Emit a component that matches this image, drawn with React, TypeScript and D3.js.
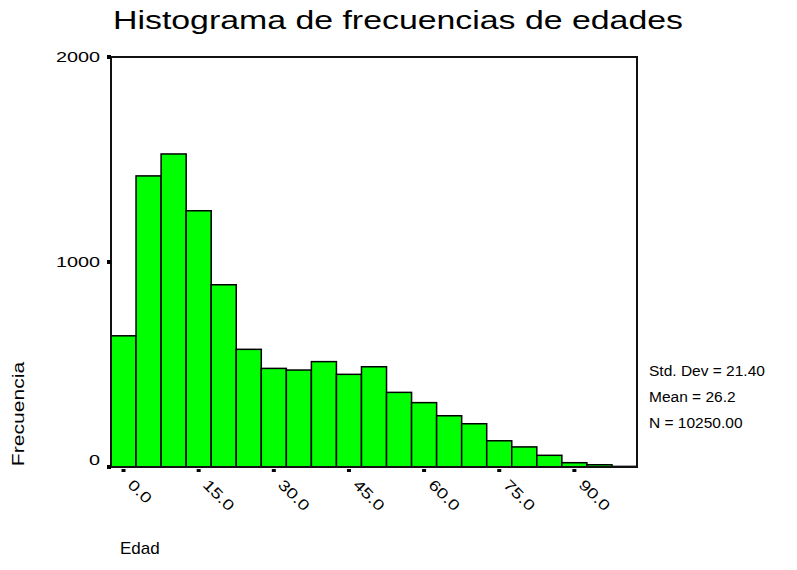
import React from "react";
import * as d3 from "d3";

const binCenters = [0, 5, 10, 15, 20, 25, 30, 35, 40, 45, 50, 55, 60, 65, 70, 75, 80, 85, 90, 95, 100];
const counts = [640, 1420, 1527, 1250, 889, 574, 481, 473, 514, 452, 489, 364, 314, 250, 211, 128, 98, 57, 21, 11, 3];
const xTicks = [0, 15, 30, 45, 60, 75, 90];
const yTicks = [0, 1000, 2000];
const stats = ["Std. Dev = 21.40", "Mean = 26.2", "N = 10250.00"];
const binWidth = 5;

const W = 797;
const H = 570;
const left = 111;
const right = 637;
const top = 57;
const bottom = 467;
const font = "Liberation Sans, Arial, sans-serif";
const SX = 1.28;

export default function App() {
  const x = d3.scaleLinear().domain([-2.5, 102.5]).range([left, right]);
  const y = d3.scaleLinear().domain([0, 2000]).range([bottom, top]);
  return (
    <svg width={W} height={H} style={{ position: "absolute", left: 0, top: 0 }} fontFamily={font}>
      <rect x={0} y={0} width={W} height={H} fill="#fff" />
      <text
        x={113}
        y={29}
        fontSize={26.5}
        textLength={570}
        lengthAdjust="spacingAndGlyphs"
        fill="#000"
      >
        Histograma de frecuencias de edades
      </text>
      {binCenters.map((c, i) => (
        <rect
          key={i}
          x={x(c - binWidth / 2)}
          y={y(counts[i])}
          width={x(c + binWidth / 2) - x(c - binWidth / 2)}
          height={bottom - y(counts[i])}
          fill="#00ff00"
          stroke="#000"
          strokeWidth={1.5}
        />
      ))}
      <path
        d={`M${left},${top} L${right},${top} L${right},${bottom} L${left},${bottom} Z`}
        fill="none"
        stroke="#111"
        strokeWidth={2}
      />
      {yTicks.map((t) => (
        <g key={t}>
          <rect x={left - 4} y={y(t) - 2} width={4} height={4} fill="#000" />
          <text
            transform={`translate(${left - 11},${y(t) + (t === 0 ? -7 : 0)}) scale(${SX},1)`}
            textAnchor="end"
            dominantBaseline="central"
            fontSize={15.5}
            fill="#000"
          >
            {t}
          </text>
        </g>
      ))}
      {xTicks.map((t) => (
        <g key={t}>
          <rect x={x(t) - 2} y={bottom + 2} width={4} height={3} fill="#000" />
          <text
            transform={`translate(${x(t) + 7},${bottom + 15}) rotate(45) scale(${SX},1)`}
            fontSize={15}
            dominantBaseline="central"
            fill="#000"
          >
            {t.toFixed(1)}
          </text>
        </g>
      ))}
      {stats.map((s, i) => (
        <text key={s} x={649} y={370 + i * 26} dominantBaseline="central" fontSize={15.5} fill="#000">
          {s}
        </text>
      ))}
      <text
        transform={`translate(18,414) rotate(-90) scale(${SX},1)`}
        textAnchor="middle"
        dominantBaseline="central"
        fontSize={16.5}
        fill="#000"
      >
        Frecuencia
      </text>
      <text x={120} y={554} fontSize={17} fill="#000">
        Edad
      </text>
    </svg>
  );
}
